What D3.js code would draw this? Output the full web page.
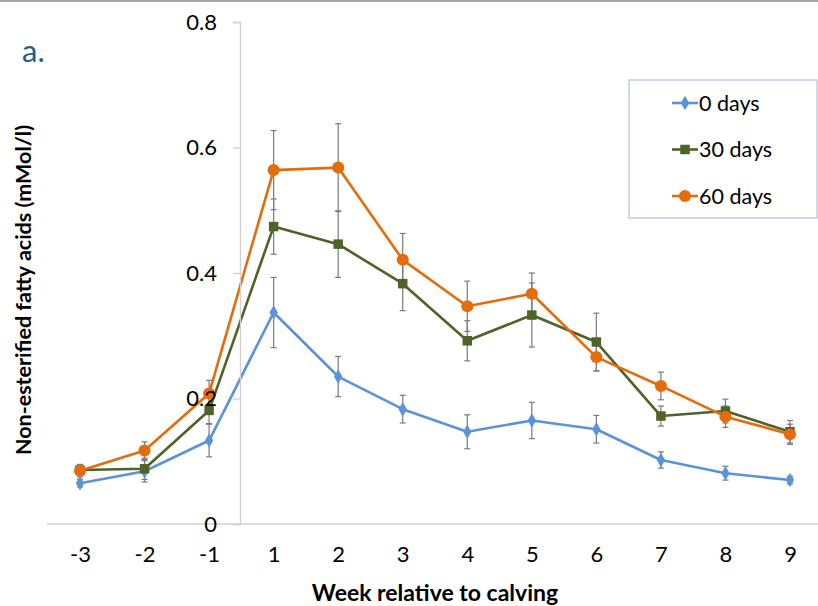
<!DOCTYPE html>
<html>
<head>
  <meta charset="utf-8">
  <script src="https://d3js.org/d3.v7.min.js"></script>
</head>
<body>
<svg width="818" height="606"></svg>
<script>
// weeks relative to calving
var weeks = ["-3", "-2", "-1", "1", "2", "3", "4", "5", "6", "7", "8", "9"];
var seriesNames = ["0 days", "30 days", "60 days"];

// NEFA means (mMol/l)
var days0  = [0.065, 0.084, 0.133, 0.337, 0.235, 0.183, 0.147, 0.165, 0.151, 0.102, 0.081, 0.070];
var days30 = [0.086, 0.088, 0.181, 0.474, 0.446, 0.383, 0.292, 0.333, 0.290, 0.172, 0.180, 0.147];
var days60 = [0.085, 0.117, 0.208, 0.564, 0.568, 0.421, 0.347, 0.367, 0.266, 0.220, 0.171, 0.143];

// error bar half-lengths
var err0  = [0.006, 0.017, 0.026, 0.056, 0.032, 0.022, 0.027, 0.029, 0.022, 0.013, 0.011, 0.006];
var err30 = [0.008, 0.017, 0.021, 0.044, 0.053, 0.043, 0.032, 0.051, 0.046, 0.016, 0.019, 0.018];
var err60 = [0.010, 0.014, 0.021, 0.063, 0.070, 0.042, 0.040, 0.033, 0.022, 0.022, 0.017, 0.016];

var yTicks = [0, 0.2, 0.4, 0.6, 0.8];

var colors = ["#5b93db", "#4f6228", "#e46c0a"];
var symbols = [d3.symbolDiamond, d3.symbolSquare, d3.symbolCircle];
var symSizes = [60, 90, 115];

var svg = d3.select("svg");
var font = "Lato, 'Open Sans', sans-serif";

var series = [days0, days30, days60].map(function (vals, i) {
  var errs = [err0, err30, err60][i];
  return {
    name: seriesNames[i],
    color: colors[i],
    points: vals.map(function (v, j) { return {week: weeks[j], value: v, err: errs[j]}; })
  };
});

var x = d3.scalePoint().domain(weeks).range([80, 790]);
var y = d3.scaleLinear().domain([0, 0.8]).range([524, 22]);

// top border
svg.append("line")
  .attr("x1", 0).attr("x2", 818).attr("y1", 1).attr("y2", 1)
  .attr("stroke", "#a6a6a6").attr("stroke-width", 2);

// x axis line
svg.append("line")
  .attr("x1", 47).attr("x2", 818).attr("y1", y(0)).attr("y2", y(0))
  .attr("stroke", "#d0d0d0").attr("stroke-width", 1.3);

// error bars
series.forEach(function (s) {
  var g = svg.append("g").attr("stroke", "#7a7a7a").attr("stroke-width", 1.2);
  s.points.forEach(function (p) {
    var cx = x(p.week);
    g.append("line").attr("x1", cx).attr("x2", cx)
      .attr("y1", y(p.value + p.err)).attr("y2", y(p.value - p.err));
    [p.value + p.err, p.value - p.err].forEach(function (v) {
      g.append("line").attr("x1", cx - 3).attr("x2", cx + 3)
        .attr("y1", y(v)).attr("y2", y(v));
    });
  });
});

var line = d3.line()
  .x(function (d) { return x(d.week); })
  .y(function (d) { return y(d.value); });

series.forEach(function (s, i) {
  svg.append("path")
    .datum(s.points)
    .attr("d", line)
    .attr("fill", "none")
    .attr("stroke", s.color)
    .attr("stroke-width", 2.6)
    .attr("stroke-linejoin", "round");

  svg.selectAll(".m" + i)
    .data(s.points)
    .enter().append("path")
    .attr("class", "m" + i)
    .attr("d", d3.symbol().type(symbols[i]).size(symSizes[i]))
    .attr("transform", function (d) { return "translate(" + x(d.week) + "," + y(d.value) + ")"; })
    .attr("fill", s.color);
});

// y axis
var yAxis = svg.append("g")
  .attr("transform", "translate(240,0)")
  .call(d3.axisLeft(y).tickValues(yTicks).tickSize(7).tickPadding(16)
    .tickFormat(function (d) { return d === 0 ? "0" : d3.format(".1f")(d); }));
yAxis.select(".domain").attr("stroke", "#d0d0d0").attr("stroke-width", 1.3);
yAxis.selectAll(".tick line").attr("stroke", "#d0d0d0").attr("stroke-width", 1.3);
yAxis.selectAll("text").attr("font-family", font).attr("font-size", 22).attr("fill", "#000");

// x axis labels
var xAxis = svg.append("g")
  .attr("transform", "translate(0," + y(0) + ")")
  .call(d3.axisBottom(x).tickSize(0).tickPadding(22));
xAxis.select(".domain").remove();
xAxis.selectAll("text").attr("font-family", font).attr("font-size", 22).attr("fill", "#000");

// axis titles
svg.append("text")
  .attr("x", 435).attr("y", 601)
  .attr("text-anchor", "middle")
  .attr("font-family", font).attr("font-weight", "bold").attr("font-size", 23)
  .text("Week relative to calving");

svg.append("text")
  .attr("transform", "translate(31,290) rotate(-90)")
  .attr("text-anchor", "middle")
  .attr("font-family", font).attr("font-weight", "bold").attr("font-size", 21.5)
  .text("Non-esterified fatty acids (mMol/l)");

// panel letter
svg.append("text")
  .attr("x", 22).attr("y", 62)
  .attr("font-family", font).attr("font-size", 31)
  .attr("fill", "#1f5f7f")
  .text("a.");

// legend
var legend = svg.append("g");
legend.append("rect")
  .attr("x", 629).attr("y", 80).attr("width", 188).attr("height", 138)
  .attr("fill", "#fff").attr("stroke", "#b3c6e0").attr("stroke-width", 1.3);

series.forEach(function (s, i) {
  var ly = 103 + i * 46.5;
  legend.append("line")
    .attr("x1", 672).attr("x2", 698).attr("y1", ly).attr("y2", ly)
    .attr("stroke", s.color).attr("stroke-width", 2.6);
  legend.append("path")
    .attr("d", d3.symbol().type(symbols[i]).size(symSizes[i]))
    .attr("transform", "translate(685," + ly + ")")
    .attr("fill", s.color);
  legend.append("text")
    .attr("x", 699).attr("y", ly)
    .attr("dy", "0.35em")
    .attr("font-family", font).attr("font-size", 21.5)
    .text(s.name);
});
</script>
<style>
body { margin: 0; background: #fff; }
svg { display: block; }
</style>
</body>
</html>
